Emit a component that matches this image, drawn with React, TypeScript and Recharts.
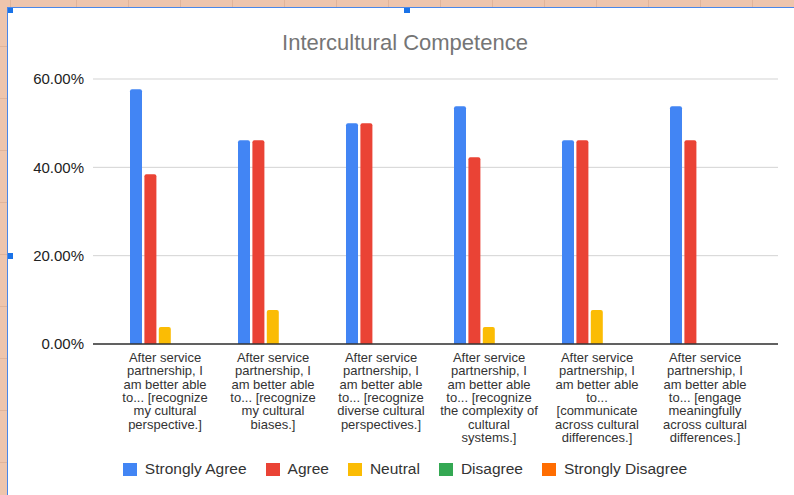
import { BarChart, Bar, XAxis, YAxis, CartesianGrid, Legend } from "recharts";

// Survey statements (line breaks where the axis wraps them)
const statements = [
  "After service\npartnership, I\nam better able\nto... [recognize\nmy cultural\nperspective.]",
  "After service\npartnership, I\nam better able\nto... [recognize\nmy cultural\nbiases.]",
  "After service\npartnership, I\nam better able\nto... [recognize\ndiverse cultural\nperspectives.]",
  "After service\npartnership, I\nam better able\nto... [recognize\nthe complexity of\ncultural\nsystems.]",
  "After service\npartnership, I\nam better able\nto...\n[communicate\nacross cultural\ndifferences.]",
  "After service\npartnership, I\nam better able\nto... [engage\nmeaningfully\nacross cultural\ndifferences.]",
];

// Share of respondents (%)
const stronglyAgree = [57.69, 46.15, 50.0, 53.85, 46.15, 53.85];
const agree = [38.46, 46.15, 50.0, 42.31, 46.15, 46.15];
const neutral = [3.85, 7.69, 0, 3.85, 7.69, 0];
const disagree = [0, 0, 0, 0, 0, 0];
const stronglyDisagree = [0, 0, 0, 0, 0, 0];

const yTicks = [0, 20, 40, 60];

const series = [
  { key: "stronglyAgree", name: "Strongly Agree", color: "#4285f4" },
  { key: "agree", name: "Agree", color: "#ea4335" },
  { key: "neutral", name: "Neutral", color: "#fbbc04" },
  { key: "disagree", name: "Disagree", color: "#34a853" },
  { key: "stronglyDisagree", name: "Strongly Disagree", color: "#ff6d01" },
];

const data = statements.map((s, i) => ({
  statement: s,
  stronglyAgree: stronglyAgree[i],
  agree: agree[i],
  neutral: neutral[i],
  disagree: disagree[i],
  stronglyDisagree: stronglyDisagree[i],
}));

const font = '"Liberation Sans", Arial, sans-serif';

const StatementTick = ({ x, y, payload }: any) => {
  const lines = String(payload.value).split("\n");
  return (
    <text x={x} y={y} textAnchor="middle" fontSize={13} fill="#333" fontFamily={font}>
      {lines.map((line, i) => (
        <tspan key={i} x={x} dy={i === 0 ? 10 : 13.3}>
          {line}
        </tspan>
      ))}
    </text>
  );
};

// keep the legend in series order rather than the alphabetical default
const LegendRow = () => (
  <div
    style={{
      display: "flex",
      justifyContent: "center",
      alignItems: "center",
      height: 30,
      fontSize: 15.5,
      color: "#333",
      fontFamily: font,
    }}
  >
    {series.map((s, i) => (
      <div key={s.key} style={{ display: "flex", alignItems: "center", marginLeft: i ? 19 : 0 }}>
        <span style={{ width: 14, height: 13, background: s.color, marginRight: 8, display: "inline-block" }} />
        {s.name}
      </div>
    ))}
  </div>
);

const handle = (left: number, top: number) => (
  <div style={{ position: "absolute", left, top, width: 6, height: 6, background: "#1a73e8" }} />
);

export default function App() {
  return (
    <div
      style={{
        position: "fixed",
        left: 0,
        top: 0,
        width: 794,
        height: 495,
        overflow: "hidden",
        backgroundColor: "#eec5ad",
        backgroundImage:
          "repeating-linear-gradient(to right, transparent 0 51px, #e0b49b 51px 52px), repeating-linear-gradient(to bottom, transparent 0 51px, #e0b49b 51px 52px)",
        backgroundPosition: "25px 0, 0 -5px",
      }}
    >
      <div
        style={{
          position: "absolute",
          left: 7,
          top: 7,
          width: 800,
          height: 500,
          background: "#fff",
          borderLeft: "1px solid #4a86e8",
          borderTop: "1px solid #4a86e8",
          overflow: "hidden",
        }}
      >
        <div style={{ position: "relative", width: 794, height: 487 }}>
          <div
            style={{
              position: "absolute",
              left: 0,
              top: 24,
              width: 794,
              textAlign: "center",
              fontFamily: font,
              fontSize: 22,
              lineHeight: "22px",
              color: "#757575",
            }}
          >
            Intercultural Competence
          </div>
          <BarChart
            width={794}
            height={487}
            data={data}
            margin={{ top: 71, right: 24, left: 0, bottom: 11 }}
            barSize={12}
            barGap={2.4}
          >
            <CartesianGrid vertical={false} stroke="#d3d3d3" />
            <XAxis
              dataKey="statement"
              interval={0}
              height={110}
              padding={{ left: 18, right: 19 }}
              tickLine={false}
              axisLine={{ stroke: "#333", strokeWidth: 1.3 }}
              tick={<StatementTick />}
            />
            <YAxis
              domain={[0, 60]}
              ticks={yTicks}
              width={85}
              axisLine={false}
              tickLine={false}
              tickMargin={3}
              tick={{ fontSize: 15, fill: "#222", fontFamily: font }}
              tickFormatter={(v: number) => `${v.toFixed(2)}%`}
            />
            <Legend
              verticalAlign="bottom"
              height={30}
              content={<LegendRow />}
              wrapperStyle={{ left: 0, width: 794 }}
            />
            {series.map((s) => (
              <Bar
                key={s.key}
                dataKey={s.key}
                name={s.name}
                fill={s.color}
                radius={[2, 2, 0, 0]}
                isAnimationActive={false}
              />
            ))}
          </BarChart>
        </div>
        {handle(-1, -1)}
        {handle(396, -1)}
        {handle(-1, 245)}
      </div>
    </div>
  );
}
